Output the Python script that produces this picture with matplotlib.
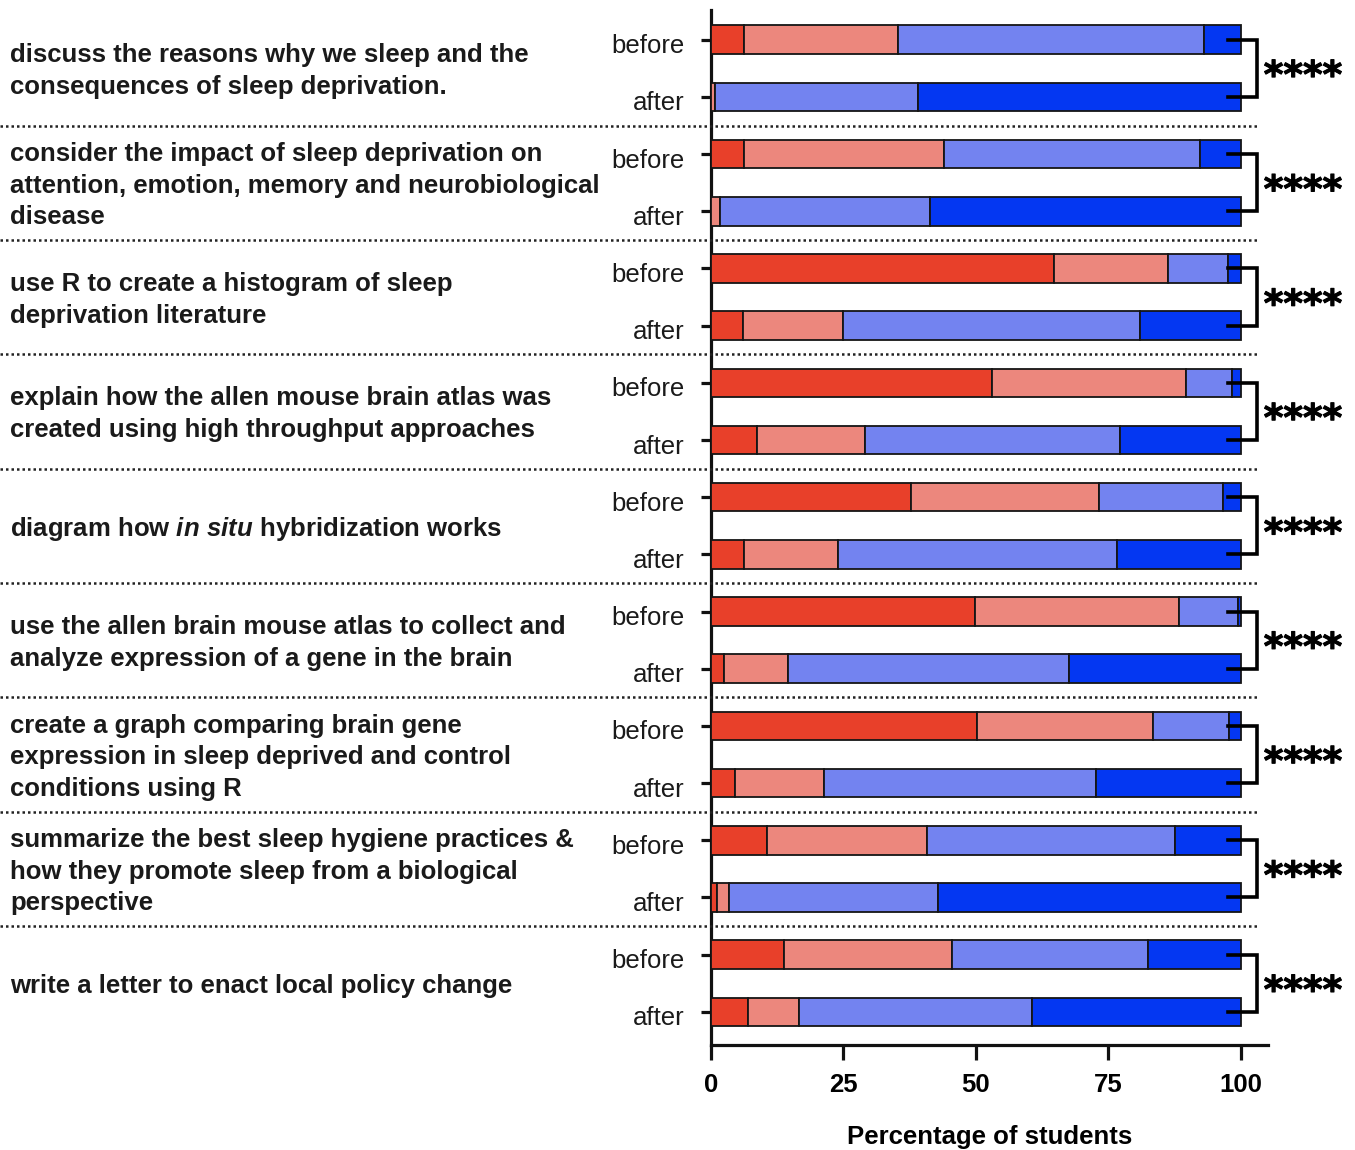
import matplotlib
matplotlib.use('Agg')
import matplotlib.pyplot as plt
import matplotlib.patheffects as pe
import numpy as np
from matplotlib.transforms import blended_transform_factory, ScaledTranslation
from matplotlib.lines import Line2D

plt.rcParams['font.family'] = ['Liberation Sans', 'DejaVu Sans']
plt.rcParams['mathtext.fontset'] = 'custom'
plt.rcParams['mathtext.it'] = 'Liberation Sans:italic:bold'
plt.rcParams['mathtext.rm'] = 'Liberation Sans:bold'
plt.rcParams['mathtext.bf'] = 'Liberation Sans:bold'

categories = [
    "discuss the reasons why we sleep and the\nconsequences of sleep deprivation.",
    "consider the impact of sleep deprivation on\nattention, emotion, memory and neurobiological\ndisease",
    "use R to create a histogram of sleep\ndeprivation literature",
    "explain how the allen mouse brain atlas was\ncreated using high throughput approaches",
    r"diagram how $\mathit{in\ situ}$ hybridization works",
    "use the allen brain mouse atlas to collect and\nanalyze expression of a gene in the brain",
    "create a graph comparing brain gene\nexpression in sleep deprived and control\nconditions using R",
    "summarize the best sleep hygiene practices &\nhow they promote sleep from a biological\nperspective",
    "write a letter to enact local policy change",
]
row_labels = ["before", "after"] * 9

# percentage of students per response level (rows: before/after for each item, top to bottom)
strongly_disagree = [6.2, 0.0, 6.2, 0.0, 64.8, 6.1, 53.1, 8.7, 37.7, 6.2, 49.9, 2.4, 50.1, 4.5, 10.6, 1.1, 13.8, 7.0]
disagree = [29.1, 0.7, 37.7, 1.7, 21.5, 18.9, 36.5, 20.4, 35.6, 17.8, 38.5, 12.1, 33.3, 16.9, 30.2, 2.3, 31.6, 9.6]
agree = [57.7, 38.3, 48.4, 39.7, 11.3, 55.9, 8.8, 48.1, 23.4, 52.7, 11.1, 53.0, 14.4, 51.2, 46.7, 39.5, 37.1, 43.9]
strongly_agree = [7.0, 61.0, 7.7, 58.6, 2.4, 19.1, 1.6, 22.8, 3.3, 23.3, 0.5, 32.5, 2.2, 27.4, 12.5, 57.1, 17.5, 39.5]
significance = ["****"] * 9

xticks = [0, 25, 50, 75, 100]
colors = ['#E8402A', '#EC877D', '#7383F0', '#0437F2']

W, H = 1355, 1150
fig = plt.figure(figsize=(W / 100, H / 100), dpi=100)
ax = fig.add_axes([711 / W, 1 - 1045 / H, (1268 - 711) / W, (1045 - 10) / H])

n = len(row_labels)
ypos = np.arange(n)
lefts = np.zeros(n)
for vals, c in zip([strongly_disagree, disagree, agree, strongly_agree], colors):
    v = np.array(vals)
    ax.barh(ypos, v, left=lefts, height=0.5, color=c, edgecolor='#151515', linewidth=1.3, zorder=3)
    lefts += v

ax.set_xlim(0, 105.1)
ax.set_ylim(17.58, -0.52)
for s in ['top', 'right']:
    ax.spines[s].set_visible(False)
for s in ['left', 'bottom']:
    ax.spines[s].set_linewidth(2.3)
    ax.spines[s].set_color('#111111')

ax.set_xticks(xticks)
ax.set_xticklabels([str(t) for t in xticks], fontsize=18.5, fontweight='bold')
ax.set_yticks(ypos)
ax.set_yticklabels(row_labels, fontsize=18.5, color='#1a1a1a')
ax.tick_params(axis='x', length=11, width=2.3, pad=9, color='#111111')
ax.tick_params(axis='y', length=7, width=2.3, pad=12, color='#111111')
ax.set_xlabel("Percentage of students", fontsize=18.5, fontweight='bold', labelpad=20)

shift = ScaledTranslation(0, -4 / 100, fig.dpi_scale_trans)
for lbl in ax.get_yticklabels():
    lbl.set_transform(lbl.get_transform() + shift)

# category labels on the far left
trans = blended_transform_factory(fig.transFigure, ax.transData)
for g, lab in enumerate(categories):
    fig.text(10 / W, 2 * g + 0.55, lab, transform=trans, ha='left', va='center',
             fontsize=18.5, fontweight='bold', linespacing=1.4, color='#1a1a1a')

# dotted separators
for g in range(len(categories) - 1):
    yy = 2 * g + 1.5
    fig.add_artist(Line2D([0, 1258 / W], [yy, yy], transform=trans, color='#222222',
                          linestyle=(0, (1, 1.2)), linewidth=1.8))

# significance brackets
for g, sig in enumerate(significance):
    yb, ya = 2 * g, 2 * g + 1
    ax.plot([97.5, 103, 103, 97.5], [yb, yb, ya, ya], color='black', lw=2.6,
            clip_on=False, zorder=5, solid_joinstyle='miter')
    ax.text(104.3, 2 * g + 0.66, sig, fontsize=27, fontweight='bold', ha='left',
            va='center', clip_on=False, family='DejaVu Sans',
            path_effects=[pe.withStroke(linewidth=0.8, foreground='black')])

fig.savefig('out.png', dpi=100)
